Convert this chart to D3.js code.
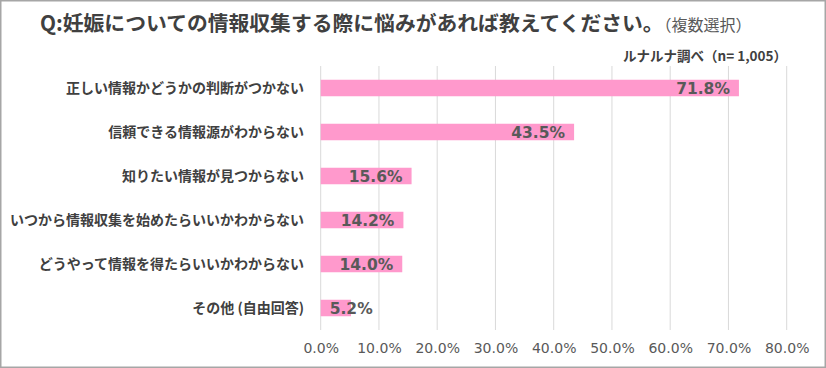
<!DOCTYPE html>
<html>
<head>
<meta charset="utf-8">
<script src="https://cdn.jsdelivr.net/npm/d3@7"></script>
<style>
  body { margin: 0; background: #fff; }
  text { font-family: "Noto Sans CJK JP", "Noto Sans", sans-serif; }
</style>
</head>
<body>
<div id="chart"></div>
<script>
// data
var categories = [
    "正しい情報かどうかの判断がつかない",
    "信頼できる情報源がわからない",
    "知りたい情報が見つからない",
    "いつから情報収集を始めたらいいかわからない",
    "どうやって情報を得たらいいかわからない",
    "その他 (自由回答)"
];
var values = [71.8, 43.5, 15.6, 14.2, 14.0, 5.2];
var tickValues = [0, 10, 20, 30, 40, 50, 60, 70, 80];

var W = 826, H = 368;
var svg = d3.select("#chart").append("svg").attr("width", W).attr("height", H);

// frame
svg.append("rect")
    .attr("x", 0.75).attr("y", 0.75)
    .attr("width", W - 1.5).attr("height", H - 1.5)
    .attr("fill", "#fff")
    .attr("stroke", "#a6a6a6")
    .attr("stroke-width", 1.5);

var x = d3.scaleLinear().domain([0, 80]).range([320.7, 786.7]);
var y = d3.scaleBand().domain(categories).range([66, 330])
    .paddingInner(0.625).paddingOuter(0.3125);

// gridlines
svg.append("g").selectAll("line")
    .data(tickValues)
    .enter().append("line")
    .attr("x1", function(d){ return x(d); })
    .attr("x2", function(d){ return x(d); })
    .attr("y1", 66).attr("y2", 330)
    .attr("stroke", "#d9d9d9")
    .attr("stroke-width", 1);

// x axis labels
var xAxis = d3.axisBottom(x).tickValues(tickValues)
    .tickFormat(function(d){ return d3.format(".1f")(d) + "%"; })
    .tickSize(0).tickPadding(0);
var ax = svg.append("g").attr("transform", "translate(0,343)").call(xAxis);
ax.select(".domain").remove();
ax.selectAll("text")
    .attr("fill", "#595959")
    .style("font-family", "'DejaVu Sans', Verdana, sans-serif")
    .style("font-size", "14px");

// bars
svg.append("g").selectAll("rect")
    .data(values)
    .enter().append("rect")
    .attr("x", x(0))
    .attr("y", function(d, i){ return y(categories[i]); })
    .attr("width", function(d){ return x(d) - x(0); })
    .attr("height", y.bandwidth())
    .attr("fill", "#ff99cc");

// value labels
svg.append("g").selectAll("text")
    .data(values)
    .enter().append("text")
    .attr("x", function(d){ return Math.max(x(d) - 9, x(0) + 52); })
    .attr("y", function(d, i){ return y(categories[i]) + y.bandwidth() / 2; })
    .attr("dy", "0.36em")
    .attr("text-anchor", "end")
    .attr("fill", "#595959")
    .style("font-family", "'DejaVu Sans', Verdana, sans-serif")
    .style("font-weight", "bold")
    .style("font-size", "15.5px")
    .text(function(d){ return d.toFixed(1) + "%"; });

// category labels
svg.append("g").selectAll("text")
    .data(categories)
    .enter().append("text")
    .attr("x", 304)
    .attr("y", function(d){ return y(d) + y.bandwidth() / 2; })
    .attr("dy", "0.36em")
    .attr("text-anchor", "end")
    .attr("fill", "#404040")
    .style("font-weight", "bold")
    .style("font-size", "14px")
    .text(function(d){ return d; });

// title
var title = svg.append("text")
    .attr("x", 40).attr("y", 31)
    .attr("fill", "#404040")
    .style("font-weight", "bold")
    .style("font-size", "20.8px");
title.append("tspan").text("Q:妊娠についての情報収集する際に悩みがあれば教えてください。");
title.append("tspan")
    .attr("dx", 0)
    .style("font-weight", "normal")
    .style("font-size", "16px")
    .attr("fill", "#595959")
    .text("（複数選択）");

svg.append("text")
    .attr("x", 787).attr("y", 61)
    .attr("text-anchor", "end")
    .attr("fill", "#404040")
    .style("font-weight", "bold")
    .style("font-size", "13.5px")
    .text("ルナルナ調べ（n= 1,005）");
</script>
</body>
</html>
